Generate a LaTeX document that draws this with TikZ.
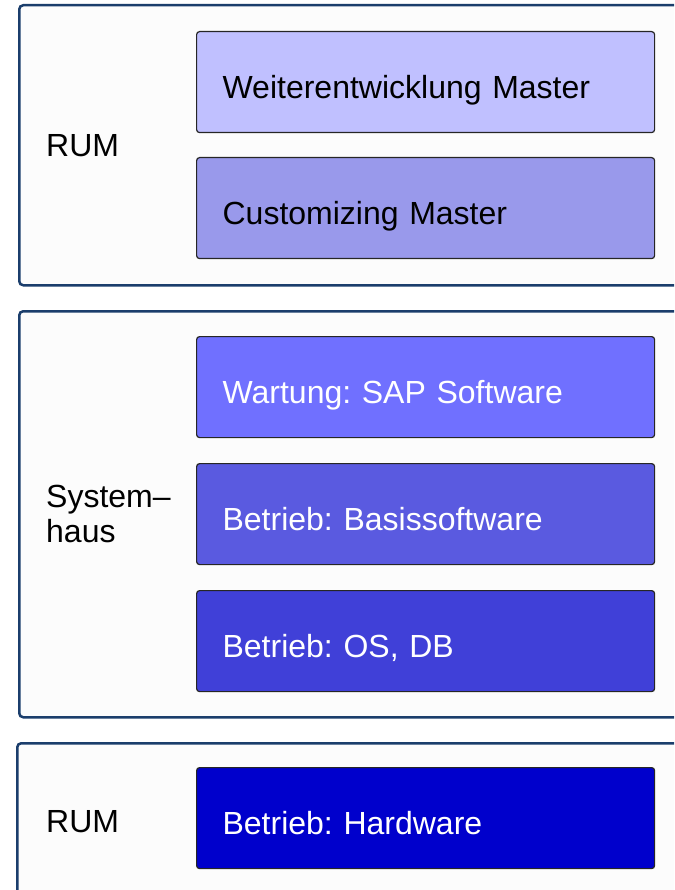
\documentclass[tikz,border=0pt]{standalone}
\usepackage{fontspec}
\setmainfont{Liberation Sans}
\usetikzlibrary{positioning}
\frenchspacing

\definecolor{navy}{HTML}{1B3E6C}
\definecolor{layerA}{HTML}{C0C0FF}
\definecolor{layerB}{HTML}{9999EB}
\definecolor{layerC}{HTML}{7070FF}
\definecolor{layerD}{HTML}{5A5AE0}
\definecolor{layerE}{HTML}{4040D8}
\definecolor{layerF}{HTML}{0000CC}

\begin{document}
\begin{tikzpicture}[x=1pt,y=-1pt,
	every node/.style={font=\fontsize{32}{35}\selectfont},
	panel/.style={draw=navy,line width=2.5pt,rounded corners=4pt,fill=white!99!black,
		anchor=north west,minimum width=700},
	layer/.style={draw=black!85,line width=1.2pt,rounded corners=3pt,anchor=north west,
		minimum width=458,minimum height=101,text width=406,inner xsep=26,
		align=left,text depth=0pt,text height=23pt},
	who/.style={anchor=west,align=left,inner sep=0pt}]
	\clip (0,0) rectangle (674,890);
	\fill[white] (0,0) rectangle (674,890);
	% frames
	\node[panel,minimum height=280] (rum1) at (18,4) {};
	\node[panel,minimum height=406] (haus) at (18,310) {};
	\node[panel,minimum height=200] (rum2) at (16,742) {};
	% RUM, oben
	\node[layer,fill=layerA] (dev) at (196,31) {\raisebox{-5pt}{Weiterentwicklung Master}};
	\node[layer,fill=layerB] (cust) at (196,157) {\raisebox{-5pt}{Customizing Master}};
	\node[who] (lab1) at (46,146) {RUM};
	% Systemhaus
	\node[layer,fill=layerC,text=white] (sap) at (196,336) {\raisebox{-5pt}{Wartung: SAP Software}};
	\node[layer,fill=layerD,text=white] (basis) at (196,463) {\raisebox{-5pt}{Betrieb: Basissoftware}};
	\node[layer,fill=layerE,text=white] (osdb) at (196,590) {\raisebox{-5pt}{Betrieb: OS, DB}};
	\node[who] (lab2) at (46,514) {System–\\haus};
	% RUM, unten
	\node[layer,fill=layerF,text=white] (hw) at (196,767) {\raisebox{-5pt}{Betrieb: Hardware}};
	\node[who] (lab3) at (46,822) {RUM};
\end{tikzpicture}
\end{document}
